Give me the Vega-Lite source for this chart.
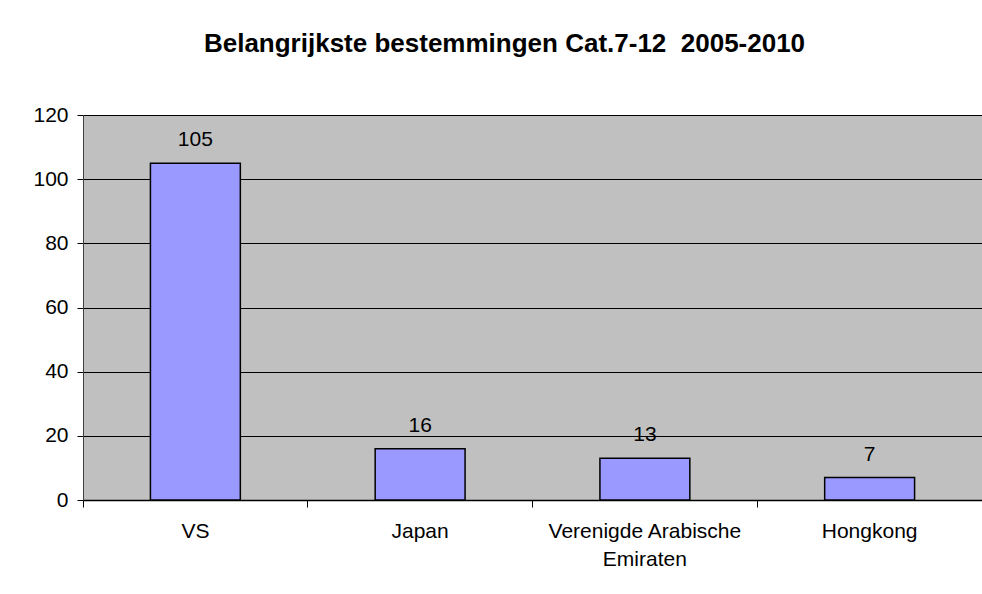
{
  "$schema": "https://vega.github.io/schema/vega-lite/v6.json",
  "autosize": "none",
  "width": 899,
  "height": 385,
  "padding": {"left": 83, "top": 115, "right": 0, "bottom": 94},
  "background": "white",
  "title": {
    "text": "Belangrijkste bestemmingen Cat.7-12\u00a0\u00a02005-2010",
    "font": "Liberation Sans",
    "fontSize": 26,
    "fontWeight": "bold",
    "color": "black",
    "anchor": "middle",
    "frame": "group",
    "baseline": "alphabetic",
    "offset": 26,
    "dx": -28
  },
  "config": {
    "view": {"fill": "#C0C0C0", "stroke": "#808080", "strokeWidth": 1},
    "font": "Liberation Sans"
  },
  "data": {
    "values": [
      {"land": "VS", "aantal": 105},
      {"land": "Japan", "aantal": 16},
      {"land": "Verenigde Arabische Emiraten", "aantal": 13},
      {"land": "Hongkong", "aantal": 7}
    ]
  },
  "encoding": {
    "x": {
      "field": "land",
      "type": "nominal",
      "sort": null,
      "scale": {"paddingInner": 0.6, "paddingOuter": 0.3},
      "axis": {
        "title": null,
        "labelAngle": 0,
        "labelFont": "Liberation Sans",
        "labelFontSize": 21,
        "labelColor": "black",
        "labelLineHeight": 28,
        "labelBaseline": "top",
        "labelPadding": 13,
        "labelLimit": 0,
        "labelExpr": "datum.label == 'Verenigde Arabische Emiraten' ? ['Verenigde Arabische', 'Emiraten'] : datum.label",
        "domainColor": "black",
        "domainWidth": 1.5,
        "tickColor": "black",
        "tickSize": 7,
        "tickWidth": 1,
        "bandPosition": -0.75,
        "grid": false
      }
    },
    "y": {
      "field": "aantal",
      "type": "quantitative",
      "scale": {"domain": [0, 120], "nice": false},
      "axis": {
        "title": null,
        "values": [0, 20, 40, 60, 80, 100, 120],
        "labelFont": "Liberation Sans",
        "labelFontSize": 21,
        "labelColor": "black",
        "labelPadding": 9,
        "tickColor": "black",
        "tickSize": 6,
        "domainColor": "#404040",
        "domainWidth": 1,
        "grid": true,
        "gridColor": "black",
        "gridWidth": 1,
        "gridOpacity": 1
      }
    }
  },
  "layer": [
    {
      "mark": {"type": "bar", "fill": "#9999FF", "stroke": "black", "strokeWidth": 1.5}
    },
    {
      "mark": {
        "type": "text",
        "font": "Liberation Sans",
        "fontSize": 21,
        "color": "black",
        "baseline": "alphabetic",
        "dy": -17
      },
      "encoding": {"text": {"field": "aantal", "type": "quantitative"}}
    }
  ]
}
